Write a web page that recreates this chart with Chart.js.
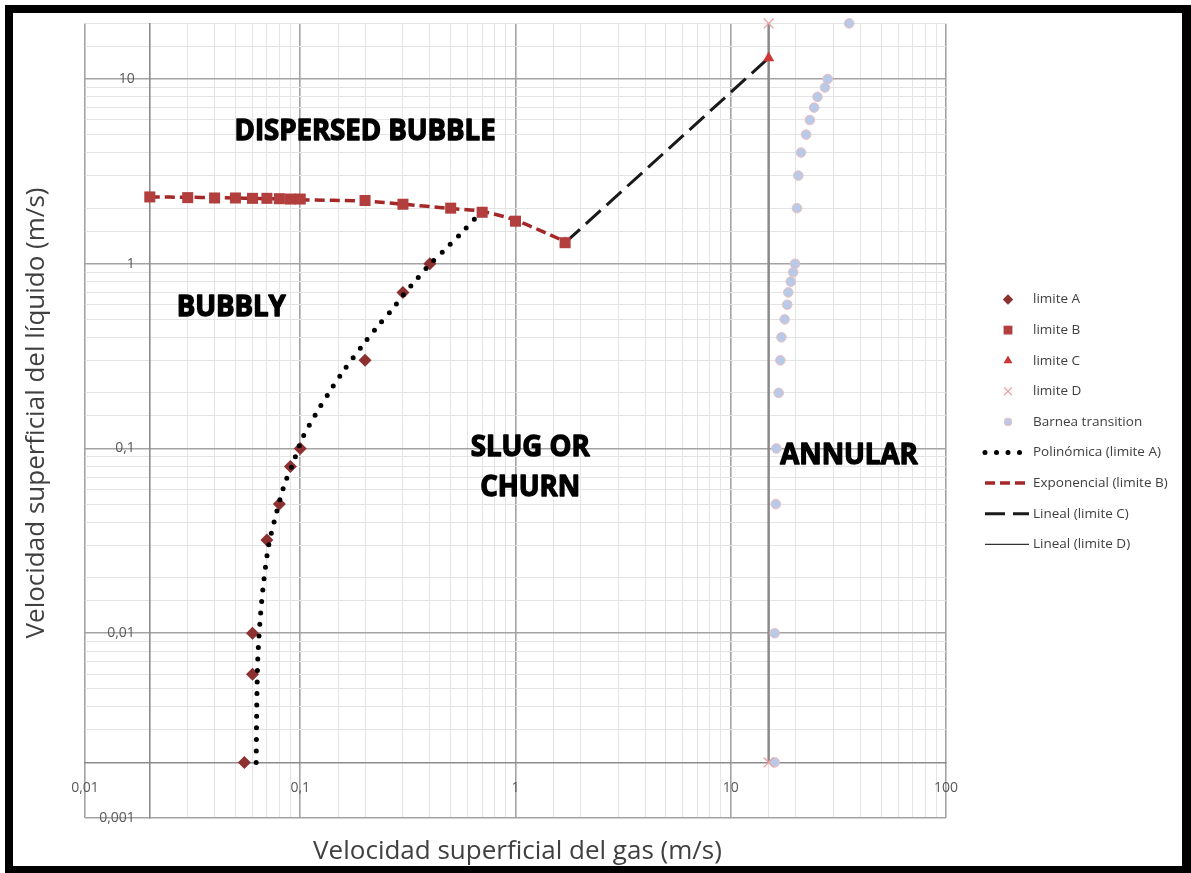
<!DOCTYPE html>
<html><head><meta charset="utf-8">
<script src="https://cdn.jsdelivr.net/npm/chart.js@4.4.1/dist/chart.umd.min.js"></script>
<style>html,body{margin:0;padding:0;background:#fff;}#wrap{position:relative;width:1191px;height:873px;}canvas{display:block;}</style>
</head><body><div id="wrap"><canvas id="c" width="1191" height="873"></canvas></div>
<script>
// ---- data ----
const limiteA_x = [0.055, 0.06, 0.06, 0.07, 0.08, 0.09, 0.1, 0.2, 0.3, 0.4];
const limiteA_y = [0.002, 0.006, 0.01, 0.032, 0.05, 0.08, 0.1, 0.3, 0.7, 1.0];

const limiteB_x = [0.02, 0.03, 0.04, 0.05, 0.06, 0.07, 0.08, 0.09, 0.1, 0.2, 0.3, 0.5, 0.7, 1.0, 1.7];
const limiteB_y = [2.30, 2.28, 2.27, 2.27, 2.26, 2.26, 2.25, 2.24, 2.24, 2.2, 2.1, 2.0, 1.9, 1.7, 1.3];

const limiteC_x = [1.7, 15];
const limiteC_y = [1.3, 13];

const limiteD_x = [15, 15];
const limiteD_y = [20, 0.002];

const barnea_x = [35.5, 28.2, 27.4, 25.3, 24.4, 23.3, 22.4, 21.2, 20.6, 20.3, 19.9, 19.5, 19.0, 18.5, 18.3, 17.8, 17.2, 17.0, 16.7, 16.3, 16.2, 16.0, 16.0];
const barnea_y = [20, 10, 9, 8, 7, 6, 5, 4, 3, 2, 1, 0.9, 0.8, 0.7, 0.6, 0.5, 0.4, 0.3, 0.2, 0.1, 0.05, 0.01, 0.002];

const polyA_x = [0.0624, 0.0628, 0.0635, 0.0651, 0.0675, 0.0712, 0.0759, 0.0844, 0.093, 0.102, 0.122, 0.138, 0.159, 0.197, 0.227, 0.272, 0.303, 0.348, 0.402, 0.464, 0.555, 0.675];
const polyA_y = [0.002, 0.004, 0.0073, 0.0118, 0.0186, 0.0295, 0.0408, 0.0638, 0.0843, 0.113, 0.164, 0.206, 0.264, 0.368, 0.453, 0.58, 0.685, 0.826, 1.0, 1.175, 1.45, 1.85];

const expB_x = [0.02, 0.03, 0.04, 0.05, 0.06, 0.07, 0.08, 0.09, 0.1, 0.2, 0.3, 0.5, 0.7, 1.0, 1.7];
const expB_y = [2.30, 2.29, 2.28, 2.27, 2.26, 2.25, 2.24, 2.23, 2.22, 2.18, 2.1, 1.99, 1.92, 1.72, 1.32];

const linC_x = [1.7, 15];
const linC_y = [1.3, 13];

const linD_x = [15, 15];
const linD_y = [0.002, 20];

const xTickValues = [0.01, 0.1, 1, 10, 100];
const xTickLabels = ['0,01', '0,1', '1', '10', '100'];
const yTickValues = [0.001, 0.01, 0.1, 1, 10];
const yTickLabels = ['0,001', '0,01', '0,1', '1', '10'];

// where the axes cross (Excel style)
const yAxisCrossAtX = 0.02;
const xAxisCrossAtY = 0.002;

const regionLabels = [
  {text: 'DISPERSED BUBBLE', x: 0.2, y: 5.2},
  {text: 'BUBBLY', x: 0.0478, y: 0.58},
  {text: 'SLUG OR', x: 1.17, y: 0.101},
  {text: 'CHURN', x: 1.17, y: 0.061},
  {text: 'ANNULAR', x: 35.4, y: 0.0917}
];

const xTitle = 'Velocidad superficial del gas (m/s)';
const yTitle = 'Velocidad superficial del líquido (m/s)';

// ---- helpers ----
const pts = (xs, ys) => xs.map((x, i) => ({x: x, y: ys[i]}));
const isDecade = v => Math.abs(Math.log10(v) - Math.round(Math.log10(v))) < 1e-6;
const labelFor = (vals, labels) => v => {
  for (let i = 0; i < vals.length; i++) if (Math.abs(Math.log10(v) - Math.log10(vals[i])) < 1e-6) return labels[i];
  return '';
};
const yLabel = labelFor(yTickValues, yTickLabels);

const datasets = [
  {label: 'limite A', data: pts(limiteA_x, limiteA_y), pointStyle: 'rectRot', pointRadius: 6.5,
   backgroundColor: 'rgb(140,48,48)', borderColor: 'rgb(140,48,48)', borderWidth: 0, order: 3, clip: false},
  {label: 'limite B', data: pts(limiteB_x, limiteB_y), pointStyle: 'rect', pointRadius: 7.8,
   backgroundColor: 'rgb(178,62,62)', borderColor: 'rgb(178,62,62)', borderWidth: 0, order: 0, clip: false},
  {label: 'limite C', data: pts(limiteC_x, limiteC_y), pointStyle: 'triangle', pointRadius: 6.5,
   backgroundColor: 'rgb(205,55,55)', borderColor: 'rgb(205,55,55)', borderWidth: 0, order: 0, clip: false},
  {label: 'limite D', data: pts(limiteD_x, limiteD_y), pointStyle: 'crossRot', pointRadius: 7,
   backgroundColor: 'rgb(235,160,160)', borderColor: 'rgb(235,160,160)', borderWidth: 1.3, order: 3, clip: false},
  {label: 'Barnea transition', data: pts(barnea_x, barnea_y), pointStyle: 'circle', pointRadius: 4.8,
   backgroundColor: 'rgb(184,202,232)', borderColor: 'rgb(236,190,190)', borderWidth: 1, order: 4, clip: false},
  {label: 'Polinómica (limite A)', data: pts(polyA_x, polyA_y), showLine: true, pointRadius: 0,
   borderColor: '#000', borderWidth: 5, borderDash: [0, 11.5], borderCapStyle: 'round', tension: 0.3,
   order: 1},
  {label: 'Exponencial (limite B)', data: pts(expB_x, expB_y), showLine: true, pointRadius: 0,
   borderColor: 'rgb(165,40,40)', borderWidth: 3.5, borderDash: [10, 5], tension: 0.3, order: 2},
  {label: 'Lineal (limite C)', data: pts(linC_x, linC_y), showLine: true, pointRadius: 0,
   borderColor: '#1a1a1a', borderWidth: 3, borderDash: [20, 8], order: 2},
  {label: 'Lineal (limite D)', data: pts(linD_x, linD_y), showLine: true, pointRadius: 0,
   borderColor: '#8a8a8a', borderWidth: 2.5, order: 5, legendColor: '#333', legendWidth: 1.2}
];

const gridColor = c => (c.tick && isDecade(c.tick.value)) ? '#a3a3a3' : '#e4e4e4';
const gridWidth = c => (c.tick && isDecade(c.tick.value)) ? 1.6 : 1;

const decorPlugin = {
  id: 'decor',
  afterDatasetsDraw(chart) {
    const ctx = chart.ctx, xs = chart.scales.x, ys = chart.scales.y;
    ctx.save();
    ctx.fillStyle = '#000';
    ctx.strokeStyle = '#000';
    ctx.lineWidth = 1.4;
    ctx.lineJoin = 'round';
    ctx.textAlign = 'center';
    ctx.textBaseline = 'middle';
    ctx.font = 'bold 29px "Open Sans"';
    regionLabels.forEach(r => {
      const w = ctx.measureText(r.text).width * 0.95;
      const px = xs.getPixelForValue(r.x), py = ys.getPixelForValue(r.y);
      ctx.fillText(r.text, px, py, w);
      ctx.strokeText(r.text, px, py, w);
    });
    ctx.restore();
  },
  afterDraw(chart) {
    const ctx = chart.ctx, ca = chart.chartArea, xs = chart.scales.x, ys = chart.scales.y;
    ctx.save();
    // y tick labels, left of the crossing vertical axis
    const bx = xs.getPixelForValue(yAxisCrossAtX);
    ctx.font = '14px "Open Sans"';
    ctx.fillStyle = '#595959';
    ctx.textAlign = 'right';
    ctx.textBaseline = 'middle';
    ys.ticks.forEach(t => {
      const lab = yLabel(t.value);
      if (lab) ctx.fillText(lab, bx - 15, ys.getPixelForValue(t.value));
    });
    // axis titles
    ctx.fillStyle = '#404040';
    ctx.font = '26px "Open Sans"';
    ctx.textAlign = 'center';
    ctx.fillText(xTitle, (ca.left + ca.right) / 2 + 2, 852);
    ctx.save();
    ctx.translate(37, 413);
    ctx.rotate(-Math.PI / 2);
    ctx.fillText(yTitle, 0, 0);
    ctx.restore();
    // legend
    const lx = 1008, tx = 1033, y0 = 299.5, step = 30.6;
    ctx.font = '13.5px "Open Sans"';
    ctx.textAlign = 'left';
    chart.data.datasets.forEach((ds, i) => {
      const y = y0 + i * step;
      ctx.save();
      if (ds.showLine) {
        ctx.strokeStyle = ds.legendColor || ds.borderColor;
        ctx.lineWidth = ds.legendWidth || ds.borderWidth;
        ctx.setLineDash(ds.borderDash || []);
        ctx.lineCap = ds.borderCapStyle || 'butt';
        ctx.beginPath();
        ctx.moveTo(985, y); ctx.lineTo(1029, y);
        ctx.stroke();
      } else {
        ctx.fillStyle = ds.backgroundColor;
        ctx.strokeStyle = ds.borderColor;
        ctx.lineWidth = ds.borderWidth;
        Chart.helpers.drawPoint(ctx, {pointStyle: ds.pointStyle, radius: ds.pointRadius * 0.8, borderWidth: ds.borderWidth, rotation: 0}, lx, y);
      }
      ctx.restore();
      ctx.fillStyle = '#404040';
      ctx.fillText(ds.label, tx, y);
    });
    // frame
    ctx.fillStyle = '#000';
    ctx.fillRect(5, 5, 1186, 8);
    ctx.fillRect(5, 5, 8, 868);
    ctx.fillRect(1182, 5, 9, 868);
    ctx.fillRect(5, 866, 1186, 7);
    ctx.restore();
  }
};

new Chart(document.getElementById('c'), {
  type: 'scatter',
  data: {datasets: datasets},
  options: {
    responsive: false,
    animation: false,
    devicePixelRatio: 1,
    layout: {padding: {left: 85, top: 22, right: 245, bottom: 55}},
    plugins: {legend: {display: false}, tooltip: {enabled: false}},
    scales: {
      x: {
        type: 'logarithmic', min: 0.01, max: 100, position: {y: xAxisCrossAtY},
        grid: {color: gridColor, lineWidth: gridWidth, drawTicks: false},
        border: {display: true, color: '#8c8c8c', width: 1.6},
        ticks: {autoSkip: false, maxRotation: 0, padding: 17, color: '#595959',
                font: {family: 'Open Sans', size: 14}, callback: labelFor(xTickValues, xTickLabels)}
      },
      y: {
        type: 'logarithmic', min: 0.001, max: 20, position: {x: yAxisCrossAtX},
        grid: {color: gridColor, lineWidth: gridWidth, drawTicks: false},
        border: {display: true, color: '#8c8c8c', width: 1.6},
        ticks: {autoSkip: false, padding: 15, color: 'rgba(0,0,0,0)',
                font: {family: 'Open Sans', size: 14}, callback: labelFor(yTickValues, yTickLabels)}
      }
    }
  },
  plugins: [decorPlugin]
});
</script></body></html>
